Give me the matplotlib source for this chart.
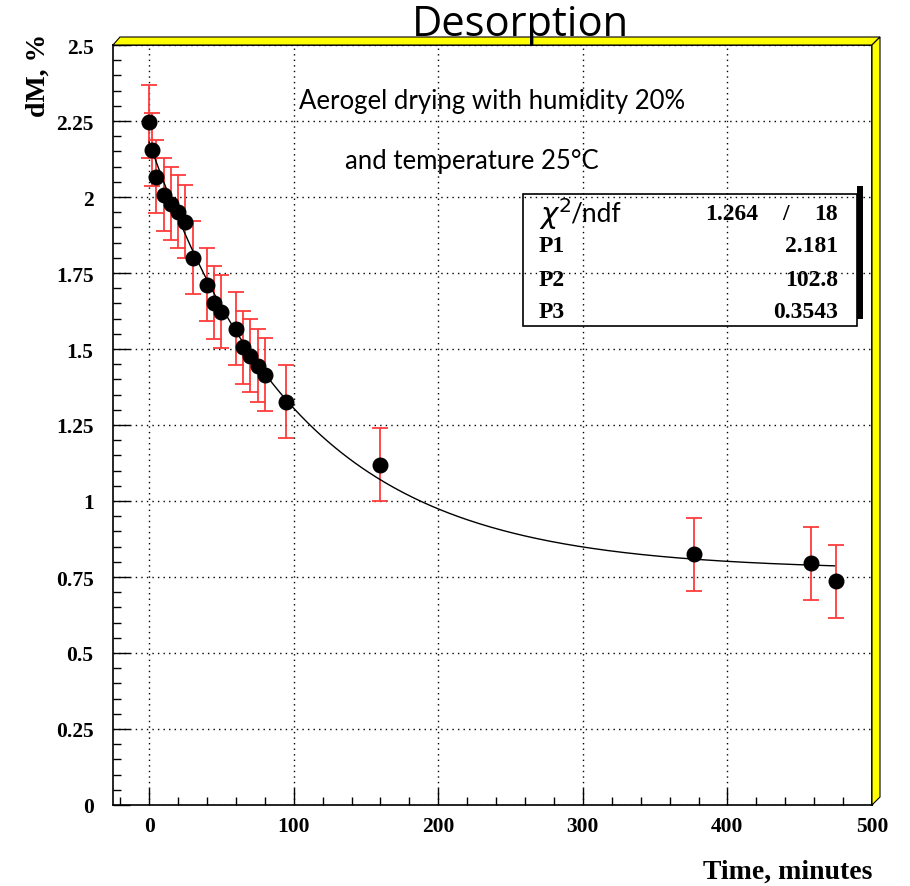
import numpy as np
import matplotlib
matplotlib.use("Agg")
import matplotlib.pyplot as plt
from matplotlib.patches import Polygon, Rectangle
from matplotlib.ticker import MultipleLocator

# measured points
time_min = [0, 2, 5, 10, 15, 20, 25, 30, 40, 45, 50, 60, 65, 70, 75, 80, 95, 160, 377, 458, 475]
dm_pct = [2.247, 2.155, 2.066, 2.007, 1.978, 1.951, 1.919, 1.800, 1.712, 1.652, 1.623,
          1.567, 1.505, 1.478, 1.445, 1.416, 1.327, 1.120, 0.825, 0.795, 0.736]
dm_err = [0.12, 0.12, 0.12, 0.12, 0.12, 0.12, 0.12, 0.12, 0.12, 0.12, 0.12,
          0.12, 0.12, 0.12, 0.12, 0.12, 0.12, 0.12, 0.12, 0.12, 0.12]

# fit result shown in the stats box
chi2, ndf = 1.264, 18
p1, p2, p3 = 2.181, 102.8, 0.3543
fit_range = [0, 474]

W, H = 910, 887


def fx(px):
    return px / W


def fy(py):
    return 1 - py / H


fig = plt.figure(figsize=(9.1, 8.87), dpi=100)
ax = fig.add_axes([fx(113), fy(806), fx(872) - fx(113), fy(46) - fy(806)])

serif = "Liberation Serif"
sans = "Lato"

tt = np.linspace(fit_range[0], fit_range[1], 300)
ax.plot(tt, p1 * (p3 + (1 - p3) * np.exp(-tt / p2)), color="black", lw=1, zorder=3)
ax.errorbar(time_min, dm_pct, yerr=dm_err, fmt="none", ecolor="#ff3b3b",
            elinewidth=1.3, capsize=5.5, capthick=1.3, zorder=2)
ax.plot(time_min, dm_pct, "o", color="black", ms=10.5, zorder=4)

ax.set_xlim(-25, 500)
ax.set_ylim(0, 2.5)
ax.xaxis.set_major_locator(MultipleLocator(100))
ax.xaxis.set_minor_locator(MultipleLocator(20))
ax.yaxis.set_major_locator(MultipleLocator(0.25))
ax.yaxis.set_minor_locator(MultipleLocator(0.05))
ax.set_yticks([0, 0.25, 0.5, 0.75, 1, 1.25, 1.5, 1.75, 2, 2.25, 2.5])
ax.set_yticklabels(["0", "0.25", "0.5", "0.75", "1", "1.25", "1.5", "1.75", "2", "2.25", "2.5"])
ax.tick_params(which="both", direction="in", top=False, right=False, width=1)
ax.tick_params(which="major", length=12)
ax.tick_params(which="minor", length=5.5)
ax.tick_params(axis="y", pad=14)
ax.tick_params(axis="x", pad=8)
for lab in ax.get_xticklabels() + ax.get_yticklabels():
    lab.set_fontfamily(serif)
    lab.set_fontweight("bold")
    lab.set_fontsize(15.5)
ax.grid(True, which="major", color="black", ls=(0, (1, 3)), lw=1)
for s in ax.spines.values():
    s.set_linewidth(1.2)

# 3D yellow frame edges
top = Polygon([(fx(113), fy(46)), (fx(120), fy(38)), (fx(880), fy(38)), (fx(872), fy(46))],
              closed=True, facecolor="#ffff00", edgecolor="black", lw=0.8,
              transform=fig.transFigure)
right = Polygon([(fx(872), fy(46)), (fx(880), fy(38)), (fx(880), fy(798)), (fx(872), fy(806))],
                closed=True, facecolor="#ffff00", edgecolor="black", lw=0.8,
                transform=fig.transFigure)
fig.patches.extend([top, right])

fig.text(fx(520), fy(25), "Desorption", ha="center", va="center",
         fontsize=30, family="Open Sans")
fig.text(fx(492), fy(102), "Aerogel drying with humidity 20%", ha="center", va="center",
         fontsize=18.5, family=sans)
fig.text(fx(472), fy(162), "and temperature 25°C", ha="center", va="center",
         fontsize=18.5, family=sans)

fig.text(fx(872), fy(872), "Time, minutes", ha="right", va="center",
         fontsize=20, family=serif, fontweight="bold")
fig.text(fx(38), fy(75), "dM, %", ha="center", va="center", rotation=90,
         fontsize=20, family=serif, fontweight="bold")

# stats box
fig.patches.append(Rectangle((fx(857), fy(320)), fx(863) - fx(857), fy(187) - fy(320),
                             facecolor="black", edgecolor="none", transform=fig.transFigure))
fig.patches.append(Rectangle((fx(523), fy(327)), fx(857) - fx(523), fy(195) - fy(327),
                             facecolor="none", edgecolor="black", lw=1.2,
                             transform=fig.transFigure))
fig.text(fx(539), fy(214), r"$\chi^2$", ha="left", va="center", fontsize=21)
fig.text(fx(570), fy(214), "/ndf", ha="left", va="center", fontsize=19, family=sans)
fig.text(fx(758), fy(214), f"{chi2:.3f}", ha="right", va="center",
         fontsize=17, family=serif, fontweight="bold")
fig.text(fx(786), fy(214), "/", ha="center", va="center",
         fontsize=17, family=serif, fontweight="bold")
fig.text(fx(838), fy(214), f"{ndf}", ha="right", va="center",
         fontsize=17, family=serif, fontweight="bold")
rows = [("P1", "2.181", 247), ("P2", "102.8", 280), ("P3", "0.3543", 313)]
for name, val, py in rows:
    fig.text(fx(539), fy(py), name, ha="left", va="center",
             fontsize=17, family=serif, fontweight="bold")
    fig.text(fx(838), fy(py), val, ha="right", va="center",
             fontsize=17, family=serif, fontweight="bold")

fig.savefig("out.png", dpi=100)
